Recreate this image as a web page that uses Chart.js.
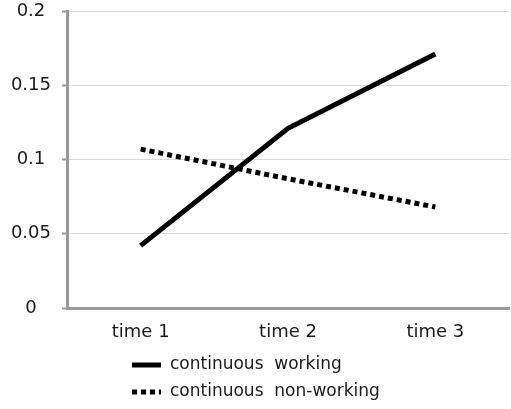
<!DOCTYPE html>
<html>
<head>
<meta charset="utf-8">
<script src="https://cdn.jsdelivr.net/npm/chart.js@4/dist/chart.umd.min.js"></script>
<style>
  html, body { margin: 0; padding: 0; background: #fff; }
  #wrap { width: 511px; height: 409px; position: relative; }
</style>
</head>
<body>
<div id="wrap"><canvas id="lineChart"></canvas></div>
<script>
"use strict";

const timeLabels = ["time 1", "time 2", "time 3"];
const workingValues = [0.042, 0.121, 0.171];
const nonWorkingValues = [0.107, 0.087, 0.068];
const seriesNames = ["continuous  working", "continuous  non-working"];
const yTicks = [0, 0.05, 0.1, 0.15, 0.2];

const fontFamily = "'DejaVu Sans', sans-serif";

// legend drawn under the axis, rows left-aligned like the original
const stackedLegend = {
  id: "stackedLegend",
  afterDraw(chart) {
    const ctx = chart.ctx;
    ctx.save();
    chart.data.datasets.forEach((ds, i) => {
      const y = 365 + i * 27;
      ctx.beginPath();
      ctx.lineWidth = ds.borderWidth;
      ctx.strokeStyle = ds.borderColor;
      ctx.lineCap = "butt";
      ctx.setLineDash(ds.borderDash || []);
      ctx.moveTo(132, y);
      ctx.lineTo(161, y);
      ctx.stroke();
      ctx.setLineDash([]);
      ctx.fillStyle = "#1a1a1a";
      ctx.font = "17px " + fontFamily;
      ctx.textBaseline = "middle";
      ctx.textAlign = "left";
      ctx.fillText(ds.label, 170, y);
    });
    ctx.restore();
  }
};

new Chart(document.getElementById("lineChart"), {
  type: "line",
  data: {
    labels: timeLabels,
    datasets: [
      {
        label: seriesNames[0],
        data: workingValues,
        borderColor: "#000",
        borderWidth: 5,
        pointRadius: 0,
        tension: 0
      },
      {
        label: seriesNames[1],
        data: nonWorkingValues,
        borderColor: "#000",
        borderWidth: 5,
        borderDash: [5, 4],
        pointRadius: 0,
        tension: 0
      }
    ]
  },
  options: {
    responsive: true,
    maintainAspectRatio: false,
    animation: false,
    layout: { padding: { top: 11, right: 2, bottom: 61, left: 0 } },
    plugins: {
      legend: { display: false },
      tooltip: { enabled: false }
    },
    scales: {
      x: {
        offset: true,
        grid: { display: false, drawTicks: false },
        border: { color: "#999", width: 3 },
        ticks: {
          color: "#1a1a1a",
          padding: 14,
          font: { family: fontFamily, size: 18 }
        },
        afterFit(scale) {
          scale.height = 40;
          scale.paddingLeft = 0;
          scale.paddingRight = 0;
        }
      },
      y: {
        min: 0,
        max: 0.2,
        afterBuildTicks(scale) { scale.ticks = yTicks.map((v) => ({ value: v })); },
        grid: {
          color: "#d9d9d9",
          lineWidth: 1,
          tickColor: "#999",
          tickWidth: 2,
          tickLength: 5
        },
        border: { color: "#999", width: 3 },
        ticks: {
          color: "#1a1a1a",
          padding: 11,
          crossAlign: "center",
          font: { family: fontFamily, size: 18 },
          callback: (v) => String(v)
        },
        afterFit(scale) {
          scale.width = 67;
          scale.paddingTop = 0;
          scale.paddingBottom = 0;
        }
      }
    }
  },
  plugins: [stackedLegend]
});
</script>
</body>
</html>
